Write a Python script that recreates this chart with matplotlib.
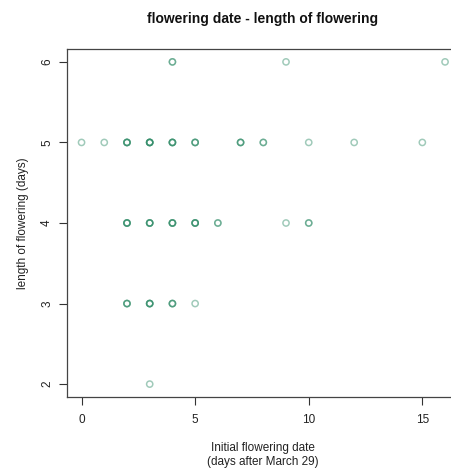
import matplotlib
matplotlib.use("Agg")
import matplotlib.pyplot as plt

plt.rcParams['font.family'] = ['Liberation Sans', 'DejaVu Sans']

# début de floraison (jours après le 29 mars) et durée de floraison (jours)
start_day = ([4] * 2 + [9] + [16]
             + [0] + [1] + [2] * 4 + [3] * 5 + [4] * 4 + [5] * 3 + [7] * 3 + [8] * 2 + [10] + [12] + [15]
             + [2] * 4 + [3] * 4 + [4] * 4 + [5] * 4 + [6] * 2 + [9] + [10] * 2
             + [2] * 3 + [3] * 4 + [4] * 3 + [5]
             + [3])
duration = ([6] * 4
            + [5] * 26
            + [4] * 21
            + [3] * 11
            + [2])

xticks = [0, 5, 10, 15]
yticks = [2, 3, 4, 5, 6]

W, H = 451, 469
fig = plt.figure(figsize=(W / 100, H / 100), dpi=100)
left, right, top, bottom = 67, 459.6, 49, 397
ax = fig.add_axes([left / W, 1 - bottom / H, (right - left) / W, (bottom - top) / H])

ax.scatter(start_day, duration, s=20, facecolors='none', edgecolors='#2e8b66',
           linewidths=1.1, alpha=0.45)

ax.set_xlim(-0.64, 16.64)
ax.set_ylim(1.84, 6.16)
ax.set_xticks(xticks)
ax.set_yticks(yticks)
ax.set_xticklabels([str(t) for t in xticks], fontsize=8.5, color='#222222')
ax.set_yticklabels([str(t) for t in yticks], fontsize=8.5, color='#222222',
                   rotation=90, va='center')
ax.tick_params(axis='x', length=6, width=0.8, color='#333333', pad=6)
ax.tick_params(axis='y', length=6, width=0.8, color='#333333', pad=4)
for s in ax.spines.values():
    s.set_color('#444444')
    s.set_linewidth(0.9)

ax.set_xlabel('Initial flowering date\n(days after March 29)', fontsize=8.5,
              color='#222222', labelpad=12, linespacing=1.15)
ax.set_ylabel('length of flowering (days)', fontsize=8.5, color='#222222', labelpad=9)
fig.text(262.5 / W, 1 - 19 / H, 'flowering date - length of flowering',
         ha='center', va='center', fontsize=10, fontweight='bold', color='#111111')

fig.savefig('out.png', dpi=100)
